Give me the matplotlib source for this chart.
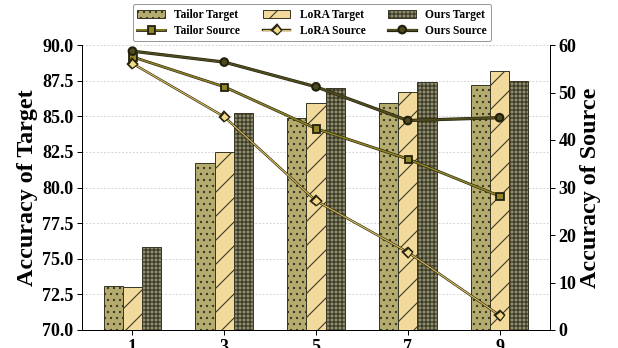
import numpy as np
import matplotlib as mpl
mpl.use("Agg")
import matplotlib.pyplot as plt
import matplotlib.patheffects as pe

# rank values on the x axis
ranks = [1, 3, 5, 7, 9]

# target-domain accuracy (left axis, bars)
tailor_target = [73.1, 81.7, 84.9, 85.9, 87.2]
lora_target = [73.0, 82.5, 85.9, 86.7, 88.2]
ours_target = [75.8, 85.2, 87.0, 87.4, 87.5]

# source-domain accuracy (right axis, lines)
tailor_source = [57.5, 51.2, 42.4, 36.0, 28.2]
lora_source = [56.1, 44.9, 27.2, 16.4, 3.1]
ours_source = [58.7, 56.4, 51.2, 44.1, 44.7]

left_ticks = [70.0, 72.5, 75.0, 77.5, 80.0, 82.5, 85.0, 87.5, 90.0]
right_ticks = [0, 10, 20, 30, 40, 50, 60]

mpl.rcParams.update({
    "font.family": "serif",
    "font.serif": ["Liberation Serif", "DejaVu Serif"],
    "font.weight": "bold",
    "axes.labelweight": "bold",
    "hatch.linewidth": 1.1,
    "hatch.color": "#3a3826",
})

DPI = 72
fig = plt.figure(figsize=(618 / DPI, 348 / DPI), dpi=DPI)
ax = fig.add_axes([82 / 618, 1 - 330 / 348, 468 / 618, 285 / 348])
ax2 = ax.twinx()

x = np.array(ranks, dtype=float)
w = 0.42
edge = "#3a3826"
ax.bar(x - w, tailor_target, w, color="#b4ac6e", edgecolor=edge, lw=1.0,
       hatch="..", label="Tailor Target", zorder=2)
ax.bar(x, lora_target, w, color="#f2da9c", edgecolor=edge, lw=1.0,
       hatch="/", label="LoRA Target", zorder=2)
ax.bar(x + w, ours_target, w, color="#8c8b6b", edgecolor=edge, lw=1.0,
       hatch="+++", label="Ours Target", zorder=2)

ax.set_xlim(-0.1, 10.1)
ax.set_ylim(70, 90)
ax.set_yticks(left_ticks)
ax.set_yticklabels([f"{t:.1f}" for t in left_ticks])
ax.set_xticks(ranks)
ax.yaxis.grid(True, linestyle=(0, (2, 2)), color="#cfcfcf", lw=0.9)
ax.set_axisbelow(True)
ax.set_ylabel("Accuracy of Target", fontsize=24, labelpad=4)


def outlined(lw):
    return [pe.Stroke(linewidth=lw + 1.2, foreground="#26240f"), pe.Normal()]


ax2.plot(x, tailor_source, color="#8f8426", lw=1.6, marker="s", ms=6.5,
         mfc="#8f8426", mec="#26240f", mew=1.0, label="Tailor Source",
         path_effects=outlined(1.6))
ax2.plot(x, lora_source, color="#dcbc5a", lw=1.2, marker="D", ms=6.5,
         mfc="#f5d98a", mec="#26240f", mew=1.0, label="LoRA Source",
         path_effects=outlined(1.2))
ax2.plot(x, ours_source, color="#4e4b1e", lw=2.0, marker="o", ms=6.5,
         mfc="#4e4b1e", mec="#1e1d0a", mew=1.0, label="Ours Source",
         path_effects=outlined(2.0))
ax2.set_ylim(0, 60)
ax2.set_yticks(right_ticks)
ax2.set_ylabel("Accuracy of Source", fontsize=24, labelpad=4)

for a in (ax, ax2):
    a.spines["top"].set_visible(False)
    for s in a.spines.values():
        s.set_linewidth(1.0)
    a.tick_params(direction="out", length=5, width=1.0, labelsize=18)

h1, l1 = ax.get_legend_handles_labels()
h2, l2 = ax2.get_legend_handles_labels()
handles = [h1[0], h2[0], h1[1], h2[1], h1[2], h2[2]]
labels = [l1[0], l2[0], l1[1], l2[1], l1[2], l2[2]]
fig.legend(handles, labels, ncol=3, loc="upper center",
           bbox_to_anchor=(312 / 618, 1 - 4 / 348), borderaxespad=0,
           fontsize=11.5, frameon=True, fancybox=True, edgecolor="#999999",
           framealpha=1, handlelength=2.4, columnspacing=2.0,
           labelspacing=0.35, borderpad=0.4, handletextpad=0.8)

fig.savefig("out.png", dpi=DPI)
